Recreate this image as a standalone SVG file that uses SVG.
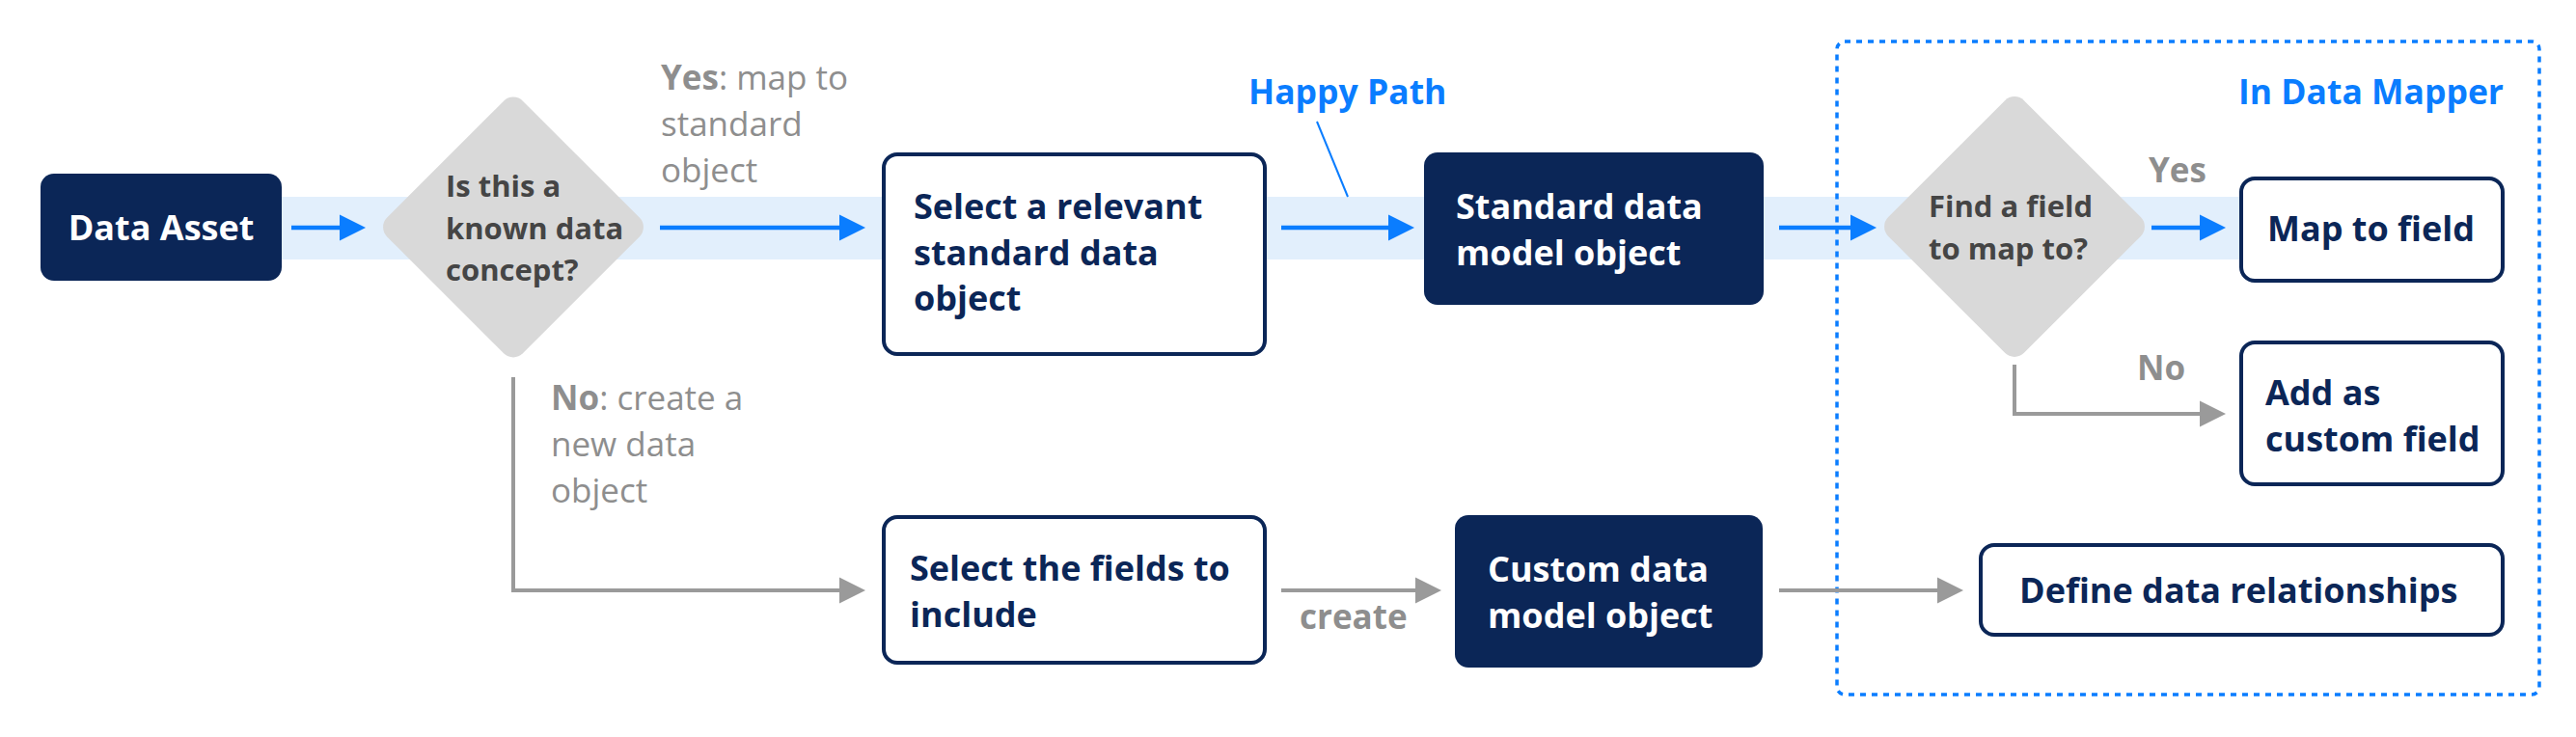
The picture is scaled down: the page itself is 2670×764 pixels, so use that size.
<svg xmlns="http://www.w3.org/2000/svg" width="2670" height="764" viewBox="0 0 2670 764">
<defs>
<style>
.t{font-family:"Open Sans","Noto Sans","DejaVu Sans",sans-serif;font-weight:700;}
.nt{font-size:36px;}
.navy{fill:#0B2657;}
.white{fill:#FFFFFF;}
.dt{font-size:31px;fill:#454545;}
.lbl{font-size:35px;fill:#8E8E8E;font-weight:400;}
.lblb{font-size:35px;fill:#8E8E8E;font-weight:700;}
.blue{fill:#0A7DFF;font-size:35.5px;}
.ob{fill:#FFFFFF;stroke:#0B2657;stroke-width:4;}
.fb{fill:#0B2657;}
.dia{fill:#D9D9D9;}
.cb{fill:none;stroke:#0A7DFF;stroke-width:4.5;}
.cg{fill:none;stroke:#9A9A9A;stroke-width:4;}
</style>
<marker id="ab" markerUnits="userSpaceOnUse" markerWidth="30" markerHeight="30" viewBox="0 0 30 30" refX="1" refY="15" orient="auto">
<path d="M0,1.5 L27,15 L0,28.5 z" fill="#0A7DFF"/>
</marker>
<marker id="ag" markerUnits="userSpaceOnUse" markerWidth="30" markerHeight="30" viewBox="0 0 30 30" refX="1" refY="15" orient="auto">
<path d="M0,1.5 L27,15 L0,28.5 z" fill="#9A9A9A"/>
</marker>
</defs>
<rect width="2670" height="764" fill="#FFFFFF"/>
<g id="happy-band">
<rect x="290" y="204" width="2033" height="65" fill="#E2EFFC"/>
</g>
<g id="data-mapper-group">
<rect x="1904" y="43" width="728" height="677" rx="8" fill="none" stroke="#0A7DFF" stroke-width="3.5" stroke-dasharray="6 6"/>
<text class="t blue" x="2595" y="108" text-anchor="end">In Data Mapper</text>
</g>
<g id="connectors">
<path class="cb" d="M302 236 H353" marker-end="url(#ab)"/>
<path class="cb" d="M684 236 H871" marker-end="url(#ab)"/>
<path class="cb" d="M1328 236 H1440" marker-end="url(#ab)"/>
<path class="cb" d="M1844 236 H1919" marker-end="url(#ab)"/>
<path class="cb" d="M2230 236 H2281" marker-end="url(#ab)"/>
<path class="cg" d="M532 391 V612 H871" marker-end="url(#ag)"/>
<path class="cg" d="M1328 612 H1468" marker-end="url(#ag)"/>
<path class="cg" d="M1844 612 H2009" marker-end="url(#ag)"/>
<path class="cg" d="M2088 378 V429 H2281" marker-end="url(#ag)"/>
<line x1="1365" y1="126" x2="1397" y2="204" stroke="#0A7DFF" stroke-width="2"/>
<text class="t lbl" x="685" y="93"><tspan font-weight="700">Yes</tspan>: map to</text>
<text class="t lbl" x="685" y="141">standard</text>
<text class="t lbl" x="685" y="189">object</text>
<text class="t lbl" x="571" y="425"><tspan font-weight="700">No</tspan>: create a</text>
<text class="t lbl" x="571" y="473">new data</text>
<text class="t lbl" x="571" y="521">object</text>
<text class="t blue" x="1294" y="108">Happy Path</text>
<text class="t lblb" x="2227" y="189">Yes</text>
<text class="t lblb" x="2215" y="394">No</text>
<text class="t lblb" x="1347" y="652" font-size="31">create</text>
</g>
<g id="data-asset">
<rect class="fb" x="42" y="180" width="250" height="111" rx="14"/>
<text class="t nt white" x="167" y="249" text-anchor="middle">Data Asset</text>
</g>
<g id="known-concept">
<rect class="dia" x="-99.5" y="-99.5" width="199" height="199" rx="14" transform="translate(532 235.5) rotate(45)"/>
<text class="t dt" x="462" y="204">Is this a</text>
<text class="t dt" x="462" y="247.5">known data</text>
<text class="t dt" x="462" y="291">concept?</text>
</g>
<g id="select-standard">
<rect class="ob" x="916" y="160" width="395" height="207" rx="14"/>
<text class="t nt navy" x="947" y="227">Select a relevant</text>
<text class="t nt navy" x="947" y="274.5">standard data</text>
<text class="t nt navy" x="947" y="322">object</text>
</g>
<g id="standard-object">
<rect class="fb" x="1476" y="158" width="352" height="158" rx="14"/>
<text class="t nt white" x="1509" y="227">Standard data</text>
<text class="t nt white" x="1509" y="275">model object</text>
</g>
<g id="find-field">
<rect class="dia" x="-99.5" y="-99.5" width="199" height="199" rx="14" transform="translate(2088 235) rotate(45)"/>
<text class="t dt" x="1999" y="225">Find a field</text>
<text class="t dt" x="1999" y="269">to map to?</text>
</g>
<g id="map-to-field">
<rect class="ob" x="2323" y="185" width="271" height="106" rx="14"/>
<text class="t nt navy" x="2350" y="250">Map to field</text>
</g>
<g id="add-custom-field">
<rect class="ob" x="2323" y="355" width="271" height="147" rx="14"/>
<text class="t nt navy" x="2348" y="420">Add as</text>
<text class="t nt navy" x="2348" y="468">custom field</text>
</g>
<g id="define-relationships">
<rect class="ob" x="2053" y="565" width="541" height="93" rx="14"/>
<text class="t nt navy" x="2093" y="625">Define data relationships</text>
</g>
<g id="select-fields">
<rect class="ob" x="916" y="536" width="395" height="151" rx="14"/>
<text class="t nt navy" x="943" y="602">Select the fields to</text>
<text class="t nt navy" x="943" y="650">include</text>
</g>
<g id="custom-object">
<rect class="fb" x="1508" y="534" width="319" height="158" rx="14"/>
<text class="t nt white" x="1542" y="603">Custom data</text>
<text class="t nt white" x="1542" y="651">model object</text>
</g>
</svg>
